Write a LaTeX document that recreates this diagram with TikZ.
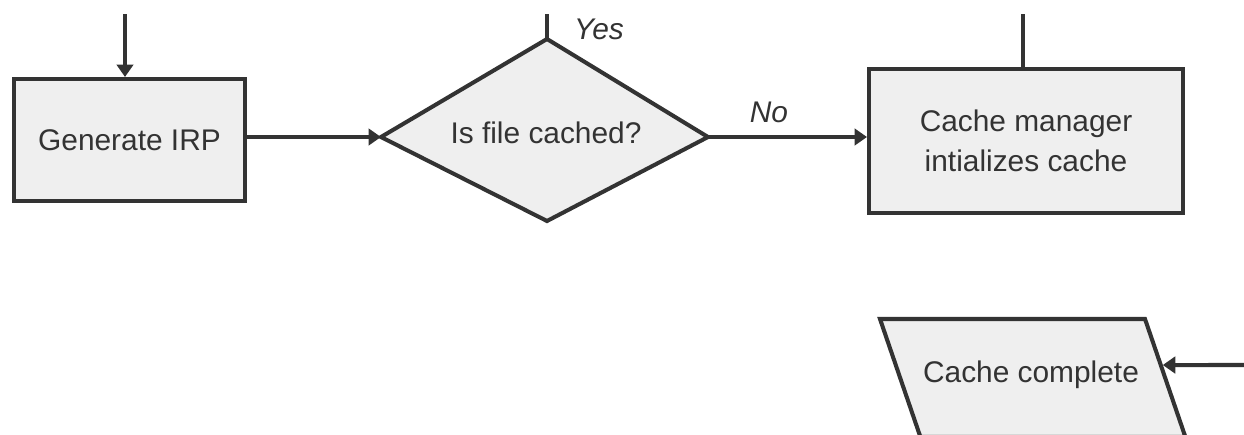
\documentclass[tikz,border=0pt]{standalone}
\usepackage{fontspec}
\setmainfont{Liberation Sans}
\usetikzlibrary{positioning,arrows.meta,calc}
\definecolor{edgegray}{HTML}{333333}
\definecolor{fillgray}{HTML}{EFEFEF}

\begin{document}
\begin{tikzpicture}[
    x=0.02cm, y=-0.02cm,
    every node/.style={font=\fontsize{17}{23}\selectfont, text=edgegray},
    box/.style={draw=edgegray, fill=fillgray, line width=2.3pt, align=center, inner sep=0pt},
    shapeline/.style={draw=edgegray, fill=fillgray, line width=2.3pt, line join=miter},
    arr/.style={-{Stealth[length=2.5mm, width=3.3mm, inset=0pt]}, draw=edgegray, line width=2.3pt},
    link/.style={draw=edgegray, line width=2.3pt},
    lbl/.style={font=\fontsize{17}{20}\selectfont\itshape}
]
\useasboundingbox (0,0) rectangle (1244,434);

% decision corners
\coordinate (ctop) at (547,39);
\coordinate (cright) at (708,137);
\coordinate (cbottom) at (547,221);
\coordinate (cleft) at (381,137);
\path[shapeline] (ctop) -- (cright) -- (cbottom) -- (cleft) -- cycle;

% parallelogram corners
\coordinate (dtl) at (880,319);
\coordinate (dtr) at (1145,319);
\coordinate (dbr) at (1185.4,437);
\coordinate (dbl) at (920.4,437);
\path[shapeline] (dtl) -- (dtr) -- (dbr) -- (dbl) -- cycle;

\node[box, minimum width=4.62cm, minimum height=2.44cm] (irp) at (129.5,140) {Generate IRP};
\node (cached) at (546,133) {Is file cached?};
\node[box, minimum width=6.28cm, minimum height=2.88cm] (init) at (1026,141) {Cache manager\\intializes cache};
\node (done) at (1031,375) {Cache complete};

\node[lbl] (yes) at (599,29) {Yes};
\node[lbl] (no) at (769,112) {No};

% free ends
\coordinate (irpin) at (125,14);
\coordinate (yesout) at (547,14);
\coordinate (initout) at (1023,14);
\coordinate (donein) at (1244,365);
\coordinate (doneedge) at ($(dtr)!0.39!(dbr)+(2,0)$);

\draw[arr] (irpin) -- (irpin |- irp.north);
\draw[arr] (irp.east |- cleft) -- (cleft);
\draw[arr] (cright) -- (cright -| init.west);
\draw[link] (ctop) -- (yesout);
\draw[link] (init.north -| initout) -- (initout);
\draw[arr] (donein) -- (doneedge);
\end{tikzpicture}
\end{document}
